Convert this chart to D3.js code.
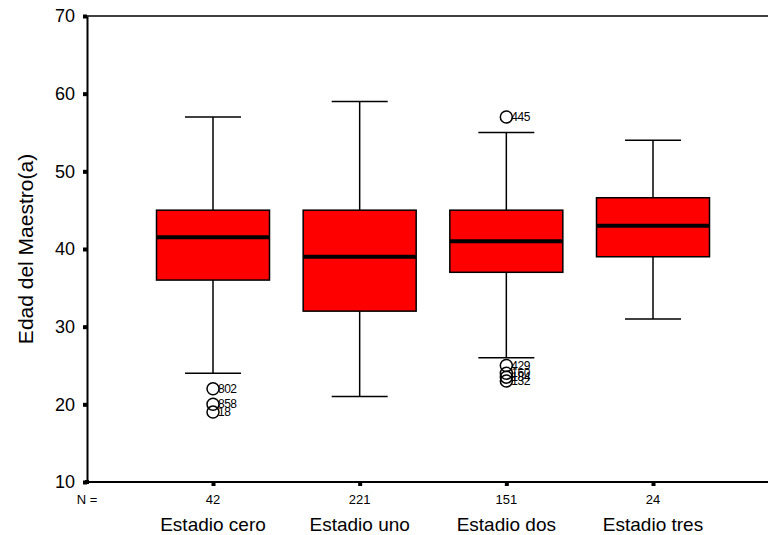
<!DOCTYPE html>
<html>
<head>
<meta charset="utf-8">
<script src="https://cdn.jsdelivr.net/npm/d3@7"></script>
<style>
  body { margin: 0; background: #fff; }
  text { font-family: Arial, "Liberation Sans", sans-serif; }
</style>
</head>
<body>
<svg id="chart" width="768" height="535"></svg>
<script>
// data
const categories = ["Estadio cero", "Estadio uno", "Estadio dos", "Estadio tres"];
const counts = [42, 221, 151, 24];
const whiskerLow = [24, 21, 26, 31];
const q1 = [36, 32, 37, 39];
const medians = [41.5, 39, 41, 43];
const q3 = [45, 45, 45, 46.6];
const whiskerHigh = [57, 59, 55, 54];
const outlierCat = [0, 0, 0, 2, 2, 2, 2, 2];
const outlierVal = [22, 20, 19, 57, 25, 24, 23.5, 23];
const outlierLbl = ["802", "858", "18", "445", "429", "160", "184", "132"];
const yTicks = [10, 20, 30, 40, 50, 60, 70];

const svg = d3.select("#chart");
const plotLeft = 87, plotTop = 16, plotBottom = 482, plotRight = 779;

const x = d3.scalePoint().domain(categories).range([213, 653]);
const y = d3.scaleLinear().domain([10, 70]).range([plotBottom, plotTop]);
const boxW = 113, capW = 56;

// top frame line
svg.append("line").attr("x1", plotLeft).attr("x2", plotRight).attr("y1", plotTop).attr("y2", plotTop)
   .attr("stroke", "#000").attr("stroke-width", 1.5);

// y axis
const yAxis = svg.append("g").attr("transform", `translate(${plotLeft},0)`)
   .call(d3.axisLeft(y).tickValues(yTicks).tickSize(0).tickPadding(12));
yAxis.select(".domain").attr("stroke", "#000").attr("stroke-width", 2);
yAxis.selectAll("text").style("font-size", "18px").attr("fill", "#000");
yAxis.selectAll(".tick").append("rect")
   .attr("x", -4).attr("y", -2).attr("width", 4).attr("height", 4).attr("fill", "#000");

// x axis
const xAxis = svg.append("g").attr("transform", `translate(0,${plotBottom})`)
   .call(d3.axisBottom(x).tickSize(0).tickFormat(""));
xAxis.select(".domain").attr("d", `M${plotLeft},0H${plotRight}`)
   .attr("stroke", "#000").attr("stroke-width", 2);
xAxis.selectAll(".tick").append("rect")
   .attr("x", -2).attr("y", 0).attr("width", 4).attr("height", 4).attr("fill", "#000");
svg.append("rect").attr("x", plotLeft - 2).attr("y", plotBottom - 2).attr("width", 4).attr("height", 4);

// N row and category labels
svg.append("text").attr("x", 87).attr("y", 504).attr("text-anchor", "middle")
   .style("font-size", "13px").text("N =");
svg.selectAll(".nlab").data(categories).enter().append("text")
   .attr("x", d => x(d)).attr("y", 504).attr("text-anchor", "middle")
   .style("font-size", "13px").text((d, i) => counts[i]);
svg.selectAll(".clab").data(categories).enter().append("text")
   .attr("x", d => x(d)).attr("y", 531).attr("text-anchor", "middle")
   .style("font-size", "19px").text(d => d);

svg.append("text").attr("transform", `translate(33,${(plotTop + plotBottom) / 2}) rotate(-90)`)
   .attr("text-anchor", "middle").style("font-size", "21px").text("Edad del Maestro(a)");

// boxes
const g = svg.append("g");
categories.forEach((c, i) => {
  const cx = x(c);
  g.append("line").attr("x1", cx).attr("x2", cx).attr("y1", y(whiskerHigh[i])).attr("y2", y(q3[i]))
   .attr("stroke", "#000").attr("stroke-width", 1.5);
  g.append("line").attr("x1", cx).attr("x2", cx).attr("y1", y(q1[i])).attr("y2", y(whiskerLow[i]))
   .attr("stroke", "#000").attr("stroke-width", 1.5);
  [whiskerHigh[i], whiskerLow[i]].forEach(v => {
    g.append("line").attr("x1", cx - capW / 2).attr("x2", cx + capW / 2).attr("y1", y(v)).attr("y2", y(v))
     .attr("stroke", "#000").attr("stroke-width", 1.5);
  });
  g.append("rect").attr("x", cx - boxW / 2).attr("y", y(q3[i]))
   .attr("width", boxW).attr("height", y(q1[i]) - y(q3[i]))
   .attr("fill", "#ff0000").attr("stroke", "#000").attr("stroke-width", 1.5);
  g.append("line").attr("x1", cx - boxW / 2).attr("x2", cx + boxW / 2)
   .attr("y1", y(medians[i])).attr("y2", y(medians[i]))
   .attr("stroke", "#000").attr("stroke-width", 4);
});

// outliers (labels overlap in the original too)
outlierVal.forEach((v, i) => {
  const cx = x(categories[outlierCat[i]]);
  g.append("circle").attr("cx", cx).attr("cy", y(v)).attr("r", 6)
   .attr("fill", "none").attr("stroke", "#000").attr("stroke-width", 1.5);
  g.append("text").attr("x", cx + 5).attr("y", y(v) + 4)
   .style("font-size", "12px").style("letter-spacing", "-0.5px").text(outlierLbl[i]);
});
</script>
</body>
</html>
